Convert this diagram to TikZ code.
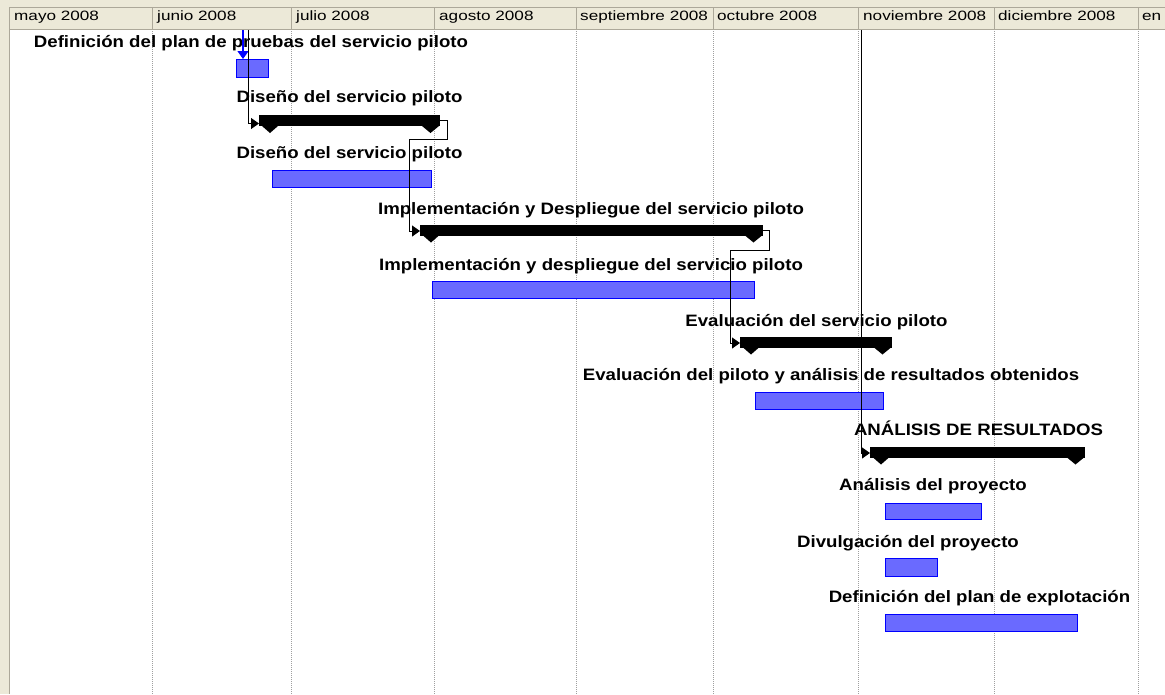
\documentclass[tikz,border=0pt]{standalone}
\usepackage{fontspec}
\setmainfont{Liberation Sans}
\newfontfamily\lblfont{Liberation Sans}[FakeStretch=1.13]
\newfontfamily\hdrfont{Liberation Sans}[FakeStretch=1.27]
\usetikzlibrary{arrows.meta}
\definecolor{panel}{HTML}{ECE9D8}
\definecolor{edge}{HTML}{ACA899}
\definecolor{barblue}{HTML}{6A6AFF}
\definecolor{barline}{HTML}{0000FF}
\tikzset{
  task/.style={draw=barline, fill=barblue, line width=1pt, inner sep=0pt, outer sep=0pt, rectangle},
  sumbar/.style={fill=black, inner sep=0pt, outer sep=0pt, minimum height=11pt, rectangle},
  lbl/.style={anchor=base, inner sep=0pt, font=\lblfont\bfseries\fontsize{16.5}{18}\selectfont},
  hdr/.style={anchor=base west, inner sep=0pt, font=\hdrfont\fontsize{13.5}{15}\selectfont},
  link/.style={draw=black, line width=1pt, -{Triangle[length=8pt,width=11pt]}},
  bluelink/.style={draw=barline, line width=1.2pt, -{Triangle[length=8pt,width=11pt]}},
  gridline/.style={draw=gray!75, line width=1pt, dash pattern=on 1pt off 1pt},
}
\begin{document}
\begin{tikzpicture}[x=1pt,y=-1pt]
\clip (0,0) rectangle (1165,694);
\fill[white] (0,0) rectangle (1165,694);
% panel
\fill[panel] (0,0) rectangle (1165,29);
\fill[panel] (0,0) rectangle (9,694);
\draw[edge, line width=1pt] (9.5,7) -- (9.5,694);
\draw[edge, line width=1pt] (9,7.5) -- (1165,7.5);
\draw[edge, line width=1pt] (9,29.5) -- (1165,29.5);
\foreach \x in {152,291,434,576,713,858,994,1138} {
  \draw[edge, line width=1pt] (\x,7) -- (\x,29);
  \draw[gridline] (\x,31) -- (\x,694);
}
% header labels
\node[hdr] (h1) at (14,20) {mayo 2008};
\node[hdr] (h2) at (157,20) {junio 2008};
\node[hdr] (h3) at (296,20) {julio 2008};
\node[hdr] (h4) at (439,20) {agosto 2008};
\node[hdr] (h5) at (580,20) {septiembre 2008};
\node[hdr] (h6) at (717,20) {octubre 2008};
\node[hdr] (h7) at (863,20) {noviembre 2008};
\node[hdr] (h8) at (998,20) {diciembre 2008};
\node[hdr] (h9) at (1142,20) {en};
% task bars
\node[task, minimum width=32pt, minimum height=18pt] (t1) at (252,68) {};
\node[task, minimum width=159pt, minimum height=17pt] (t3) at (351.5,178.5) {};
\node[task, minimum width=322pt, minimum height=17pt] (t5) at (593,289.5) {};
\node[task, minimum width=128pt, minimum height=17pt] (t7) at (819,400.5) {};
\node[task, minimum width=96pt, minimum height=16pt] (t9) at (933,511) {};
\node[task, minimum width=52pt, minimum height=18pt] (t10) at (911,567) {};
\node[task, minimum width=192pt, minimum height=17pt] (t11) at (981,622.5) {};
% summary bars
\node[sumbar, minimum width=181pt] (s2) at (349.5,120.5) {};
\node[sumbar, minimum width=343pt] (s4) at (591.5,230) {};
\node[sumbar, minimum width=152pt] (s6) at (816,342) {};
\node[sumbar, minimum width=215pt] (s8) at (977.5,452) {};
\foreach \s in {s2,s4,s6,s8} {
  \fill ([xshift=3pt]\s.south west) -- ++(16,0) -- ++(-8,7) -- cycle;
  \fill ([xshift=-1pt]\s.south east) -- ++(-17,0) -- ++(8.5,7) -- cycle;
}
% labels
\node[lbl] (l1) at (251,47) {Definición del plan de pruebas del servicio piloto};
\node[lbl] (l2) at (349.5,102) {Diseño del servicio piloto};
\node[lbl] (l3) at (349.5,158) {Diseño del servicio piloto};
\node[lbl] (l4) at (591,214) {Implementación y Despliegue del servicio piloto};
\node[lbl] (l5) at (591,270) {Implementación y despliegue del servicio piloto};
\node[lbl] (l6) at (816.5,326) {Evaluación del servicio piloto};
\node[lbl] (l7) at (831,380) {Evaluación del piloto y análisis de resultados obtenidos};
\node[lbl] (l8) at (978.5,435) {ANÁLISIS DE RESULTADOS};
\node[lbl] (l9) at (933,490) {Análisis del proyecto};
\node[lbl] (l10) at (908,547) {Divulgación del proyecto};
\node[lbl] (l11) at (979.5,602) {Definición del plan de explotación};
% connectors
\coordinate (b1) at (243,30);
\coordinate (k1) at (248,30);
\coordinate (k2) at (861,30);
\draw[bluelink] (b1) -- (b1 |- t1.north);
\draw[link] (k1) |- ([yshift=-3pt]s2.west);
\draw[link] (s2.east) -- ++(7,0) -- ++(0,18.5) -- ++(-38,0) |- ([yshift=-1pt]s4.west);
\draw[link] (s4.east) -- ++(6,0) -- ++(0,20) -- ++(-39,0) |- ([yshift=-1pt]s6.west);
\draw[link] (k2) |- ([yshift=-1pt]s8.west);
\end{tikzpicture}
\end{document}
